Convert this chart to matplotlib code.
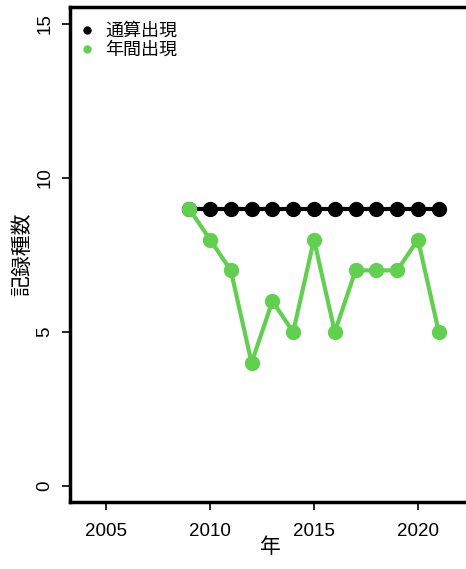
import numpy as np
import matplotlib
matplotlib.use('Agg')
import matplotlib.pyplot as plt

plt.rcParams['font.family'] = ['Liberation Sans', 'Noto Sans CJK JP', 'DejaVu Sans']

years = [2009, 2010, 2011, 2012, 2013, 2014, 2015, 2016, 2017, 2018, 2019, 2020, 2021]
cumulative = [9, 9, 9, 9, 9, 9, 9, 9, 9, 9, 9, 9, 9]
annual = [9, 8, 7, 4, 6, 5, 8, 5, 7, 7, 7, 8, 5]
xticks = [2005, 2010, 2015, 2020]
yticks = [0, 5, 10, 15]

green = '#61D04F'

fig = plt.figure(figsize=(4.66, 5.69), dpi=100)
ax = fig.add_axes([70/466, 67/569, 400/466, 495/569])

ax.plot(years, cumulative, color='black', lw=3, marker='o', ms=10, zorder=2)
ax.plot(years, annual, color=green, lw=3, marker='o', ms=10, zorder=3)

ax.set_xlim(2003.27, 2022.5)
ax.set_ylim(-0.52, 15.55)
ax.set_xticks(xticks)
ax.set_yticks(yticks)
for s in ax.spines.values():
    s.set_linewidth(2.5)
ax.tick_params(length=6, width=1.2, labelsize=13.5)
ax.tick_params(axis='x', pad=9)
ax.tick_params(axis='y', pad=6)
for lab in ax.get_yticklabels():
    lab.set_rotation(90)
    lab.set_va('center')

ax.set_xlabel('年', fontsize=15, labelpad=-2)
ax.set_ylabel('記録種数', fontsize=15, labelpad=3)

ax.plot([], [], 'o', color='black', ms=5, label='通算出現')
ax.plot([], [], 'o', color=green, ms=5, label='年間出現')
ax.legend(loc='upper left', bbox_to_anchor=(-0.015, 1.0), frameon=False, fontsize=13,
          handlelength=0.8, handletextpad=0.6, borderaxespad=0.6,
          labelspacing=0.1, borderpad=0.3)

fig.savefig('out.png', dpi=100)
